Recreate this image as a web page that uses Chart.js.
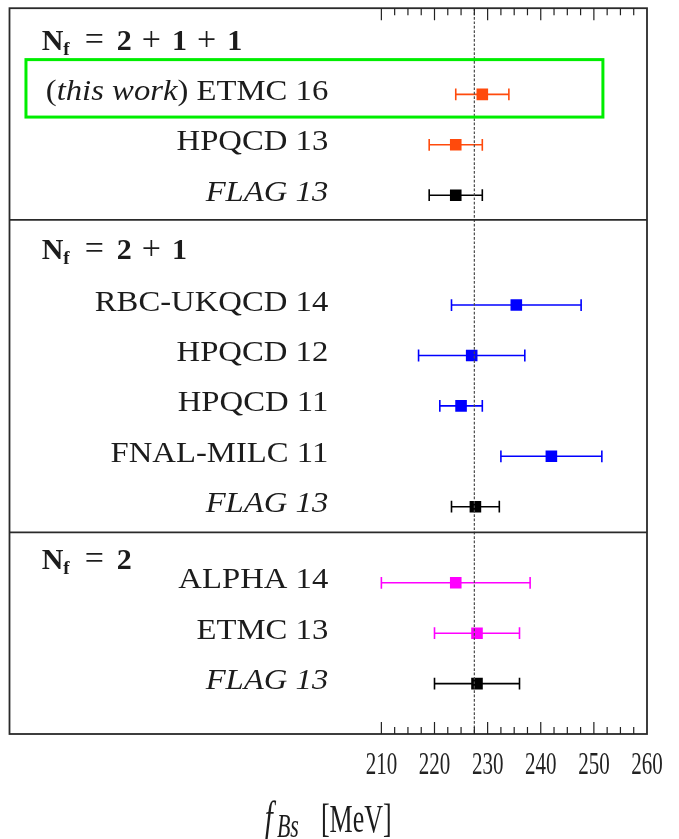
<!DOCTYPE html>
<html>
<head>
<meta charset="utf-8">
<script src="https://cdn.jsdelivr.net/npm/chart.js@4/dist/chart.umd.min.js"></script>
<style>
  html, body { margin: 0; padding: 0; background: #ffffff; }
  canvas { display: block; }
</style>
</head>
<body>
<canvas id="fbs" width="679" height="839"></canvas>
<script>
// ---- data: f_Bs determinations (MeV), grouped by sea-quark content ----
// Emphasised parts of a name are wrapped in *...* and set in italics.
const flavourGroups = ['2+1+1', '2+1', '2'];
const studies = [
  '(*this work*) ETMC 16', 'HPQCD 13', '*FLAG 13*',
  'RBC-UKQCD 14', 'HPQCD 12', 'HPQCD 11', 'FNAL-MILC 11', '*FLAG 13*',
  'ALPHA 14', 'ETMC 13', '*FLAG 13*'
];
const studyGroup = [0, 0, 0, 1, 1, 1, 1, 1, 2, 2, 2];
const fBs    = [229, 224, 224, 235.4, 227, 225, 242, 227.7, 224, 228, 228];
const fBsErr = [5,   5,   5,   12.2,  10,  4,   9.5, 4.5,   14,  8,   8];
const referenceValue = 227.5;      // dotted vertical guide
const highlightedStudy = 0;        // boxed entry
const xTickValues = [210, 220, 230, 240, 250, 260];

// ---- layout & style ----
const X_MIN = 140, X_MAX = 260;
const Y_SPAN = 14.4;
const ROW_STEP = 1;
const groupFirstRow = [1.71, 5.89, 11.4];
const groupHeaderBaseline = [0.82, 4.98, 11.12];
const dividerRows = [4.2, 10.4];
const labelRightValue = 200;       // study names end here (MeV units)
const headerLeftValue = 146.06;
const highlightBox = { x0: 143.1, x1: 251.7, up: 0.69, down: 0.45 };
const groupColours = ['#ff4a0c', '#0000ff', '#ff00ff'];
const averageColour = '#000000';
const TEXT_COLOUR = '#1c1c1c';
const FRAME_COLOUR = '#2a2a2a';
const SERIF = "'Liberation Serif', 'DejaVu Serif', serif";
const LABEL_WIDEN = 1.09;          // study names are set slightly wide
const BOTTOM_STRETCH = 1.5;        // tall numerals under the axis
const TICK_FONT_SIZE = 21;
const TICK_LABEL_CENTRE = 766;

const colourOf = i => studies[i].includes('FLAG') ? averageColour : groupColours[studyGroup[i]];

const rowY = [];
(() => {
  const seen = flavourGroups.map(() => 0);
  studyGroup.forEach((g, i) => { rowY[i] = groupFirstRow[g] + ROW_STEP * seen[g]++; });
})();

// ---- datasets ----
const errorBarSets = studies.map((name, i) => ({
  label: name.replace(/\*/g, '') + ' range',
  showLine: true,
  order: 1,
  data: [
    { x: fBs[i] - fBsErr[i], y: rowY[i] },
    { x: fBs[i] + fBsErr[i], y: rowY[i] }
  ],
  borderColor: colourOf(i),
  borderWidth: 1.6,
  pointStyle: 'line',
  pointRotation: 90,
  pointRadius: 5.9,
  pointHoverRadius: 5.9,
  pointBorderWidth: 1.6,
  pointBorderColor: colourOf(i),
  pointBackgroundColor: colourOf(i)
}));

const centralValues = {
  label: 'f_Bs',
  order: 0,
  data: studies.map((s, i) => ({ x: fBs[i], y: rowY[i] })),
  pointStyle: 'rect',
  pointRadius: 8.2,
  pointHoverRadius: 8.2,
  pointBorderWidth: 0,
  pointBackgroundColor: studies.map((s, i) => colourOf(i))
};

// ---- text helpers ----
// Draws a sequence of differently styled pieces on one baseline.
function drawRuns(ctx, runs, x, y, align, sx = 1) {
  const widths = runs.map(r => { ctx.font = r.font; return ctx.measureText(r.text).width; });
  const total = widths.reduce((sum, w, i) => sum + w + (runs[i].gap || 0), 0) * sx;
  const start = align === 'right' ? x - total : align === 'center' ? x - total / 2 : x;
  ctx.save();
  ctx.translate(start, 0);
  ctx.scale(sx, 1);
  ctx.textAlign = 'left';
  ctx.textBaseline = 'alphabetic';
  let cx = 0;
  runs.forEach((r, i) => {
    cx += r.gap || 0;
    ctx.font = r.font;
    ctx.fillText(r.text, cx, y + (r.dy || 0));
    cx += widths[i];
  });
  ctx.restore();
}

function studyRuns(name) {
  return name.split('*').map((part, i) => ({
    text: part,
    font: (i % 2 ? 'italic ' : '') + '30px ' + SERIF
  })).filter(r => r.text.length);
}

function headerRuns(group) {
  const runs = [
    { text: 'N', font: 'bold 30px ' + SERIF },
    { text: 'f', font: 'bold 19px ' + SERIF, dy: 5 },
    { text: '=', font: '34px ' + SERIF, gap: 15 }
  ];
  group.split('+').forEach((n, k) => {
    if (k > 0) runs.push({ text: '+', font: '34px ' + SERIF, gap: 10 });
    runs.push({ text: n, font: 'bold 30px ' + SERIF, gap: k === 0 ? 13 : 11 });
  });
  return runs;
}

// ---- drawing of frame, ticks, names and axis title ----
const decorations = {
  id: 'decorations',
  beforeDraw(chart) {
    // numerals below the axis are drawn vertically stretched
    const ctx = chart.ctx;
    const s = chart.scales.x;
    const yc = s.top + s.options.ticks.padding + TICK_FONT_SIZE * 1.2 / 2;
    ctx.save();
    ctx.translate(0, TICK_LABEL_CENTRE - BOTTOM_STRETCH * yc);
    ctx.scale(1, BOTTOM_STRETCH);
  },
  beforeDatasetsDraw(chart) {
    chart.ctx.restore();
  },
  afterDatasetsDraw(chart) {
    const { ctx, chartArea: a, scales: { x } } = chart;
    const px = x.getPixelForValue(referenceValue);
    ctx.save();
    ctx.strokeStyle = '#4a4a4a';
    ctx.lineWidth = 1.2;
    ctx.setLineDash([2.7, 1.7]);
    ctx.beginPath();
    ctx.moveTo(px, a.top);
    ctx.lineTo(px, a.bottom);
    ctx.stroke();
    ctx.restore();
  },
  afterDraw(chart) {
    const { ctx, chartArea: a, scales: { x, y } } = chart;
    ctx.save();

    // frame and group separators
    ctx.strokeStyle = FRAME_COLOUR;
    ctx.lineWidth = 1.8;
    ctx.strokeRect(a.left, a.top, a.right - a.left, a.bottom - a.top);
    dividerRows.forEach(r => {
      const py = y.getPixelForValue(r);
      ctx.beginPath();
      ctx.moveTo(a.left, py);
      ctx.lineTo(a.right, py);
      ctx.stroke();
    });

    // inward tick marks on top and bottom edges
    ctx.lineWidth = 1.2;
    ctx.strokeStyle = '#222222';
    for (let k = 0; k < xTickValues.length - 1; k++) {
      const v0 = xTickValues[k], v1 = xTickValues[k + 1];
      for (let m = 0; m < 4; m++) {
        const v = v0 + (v1 - v0) * m / 4;
        const len = m === 0 ? 12 : 7;
        const px = x.getPixelForValue(v);
        ctx.beginPath();
        ctx.moveTo(px, a.top);
        ctx.lineTo(px, a.top + len);
        ctx.moveTo(px, a.bottom);
        ctx.lineTo(px, a.bottom - len);
        ctx.stroke();
      }
    }

    // highlight box around the boxed study
    const hy = rowY[highlightedStudy];
    const bx0 = x.getPixelForValue(highlightBox.x0), bx1 = x.getPixelForValue(highlightBox.x1);
    const by0 = y.getPixelForValue(hy - highlightBox.up), by1 = y.getPixelForValue(hy + highlightBox.down);
    ctx.strokeStyle = '#00ee00';
    ctx.lineWidth = 3;
    ctx.strokeRect(bx0, by0, bx1 - bx0, by1 - by0);

    // study names and group headers
    ctx.fillStyle = TEXT_COLOUR;
    const labelX = x.getPixelForValue(labelRightValue);
    studies.forEach((name, i) => {
      drawRuns(ctx, studyRuns(name), labelX, y.getPixelForValue(rowY[i]) + 5.5, 'right', LABEL_WIDEN);
    });
    const headX = x.getPixelForValue(headerLeftValue);
    flavourGroups.forEach((g, k) => {
      drawRuns(ctx, headerRuns(g), headX, y.getPixelForValue(groupHeaderBaseline[k]), 'left');
    });

    // axis title: f_Bs [MeV]
    const base = 832;
    ctx.save();
    ctx.translate(0, base * (1 - BOTTOM_STRETCH));
    ctx.scale(1, BOTTOM_STRETCH);
    drawRuns(ctx, [
      { text: 'f', font: 'italic 29px ' + SERIF },
      { text: 'Bs', font: 'italic 22px ' + SERIF, dy: 3, gap: 4 },
      { text: '[MeV]', font: '26px ' + SERIF, gap: 22 }
    ], (a.left + a.right) / 2, base, 'center');
    ctx.restore();

    ctx.restore();
  }
};

Chart.defaults.font.family = SERIF;

new Chart(document.getElementById('fbs'), {
  type: 'scatter',
  data: { datasets: [centralValues, ...errorBarSets] },
  options: {
    responsive: false,
    animation: false,
    devicePixelRatio: 1,
    events: [],
    layout: { padding: { left: 9.5, right: 32, top: 7, bottom: 0 } },
    plugins: { legend: { display: false }, tooltip: { enabled: false } },
    scales: {
      x: {
        type: 'linear',
        min: X_MIN,
        max: X_MAX,
        afterBuildTicks: s => { s.ticks = xTickValues.map(v => ({ value: v })); },
        afterFit: s => { s.height = 105; s.paddingLeft = 0; s.paddingRight = 0; },
        ticks: {
          autoSkip: false,
          maxRotation: 0,
          minRotation: 0,
          padding: 3,
          color: '#222222',
          font: { family: SERIF, size: TICK_FONT_SIZE },
          callback: v => String(v)
        },
        grid: { display: false, drawTicks: false },
        border: { display: false }
      },
      y: {
        type: 'linear',
        display: false,
        reverse: true,
        min: 0,
        max: Y_SPAN
      }
    }
  },
  plugins: [decorations]
});
</script>
</body>
</html>
